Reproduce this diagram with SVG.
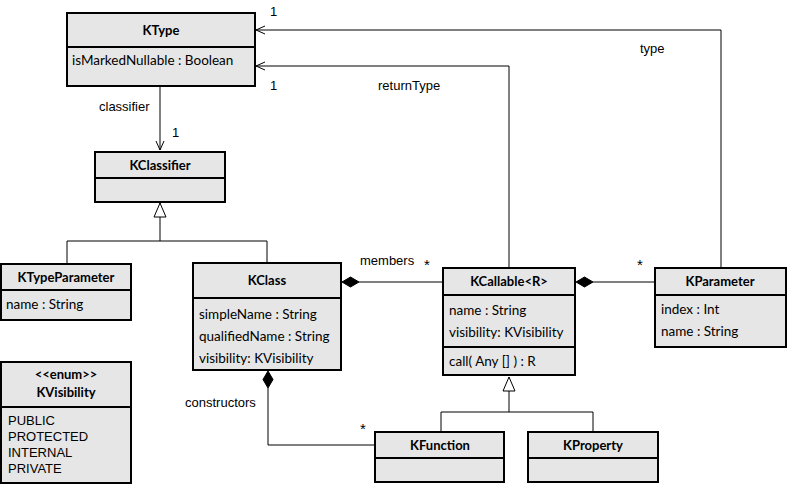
<svg xmlns="http://www.w3.org/2000/svg" width="787" height="484" viewBox="0 0 787 484">
<style>
.box{fill:#e6e6e6;stroke:#000;stroke-width:2}
.div{stroke:#000;stroke-width:2;fill:none}
.ln{stroke:#000;stroke-width:1;fill:none}
.t{font-family:Lato,"Open Sans",sans-serif;font-size:13.5px;fill:#000}
.h{font-family:Lato,"Open Sans",sans-serif;font-size:13px;font-weight:bold;fill:#000;text-anchor:middle}
.l{font-family:"Liberation Sans",Arial,sans-serif;font-size:13px;fill:#000}
.s{font-family:"Liberation Sans",Arial,sans-serif;font-size:15px;fill:#000}
</style>
<defs>
<marker id="open" markerWidth="12" markerHeight="12" refX="10" refY="5" orient="auto" markerUnits="userSpaceOnUse"><path d="M1,1 L10,5 L1,9" fill="none" stroke="#000" stroke-width="1"/></marker>
<marker id="tri" markerWidth="16" markerHeight="18" refX="15" refY="7" orient="auto" markerUnits="userSpaceOnUse"><path d="M1,1 L15,7 L1,13 Z" fill="#fff" stroke="#000" stroke-width="1"/></marker>
</defs>
<g id="connectors">
<path class="ln" d="M160,86 V150" marker-end="url(#open)"/>
<path class="ln" d="M509,268 V66 H256" marker-end="url(#open)"/>
<path class="ln" d="M721,268 V30 H256" marker-end="url(#open)"/>
<path class="ln" d="M67,264 V241 H267 V263"/>
<path class="ln" d="M160,241 V203" marker-end="url(#tri)"/>
<path class="ln" d="M441,432 V412 H593 V432"/>
<path class="ln" d="M509,412 V377" marker-end="url(#tri)"/>
<path class="ln" d="M443,282 H359"/>
<path d="M342,282 L350.5,277 L359,282 L350.5,287 Z" fill="#000" stroke="#000"/>
<path class="ln" d="M655,282 H593"/>
<path d="M576,282 L584.5,277 L593,282 L584.5,287 Z" fill="#000" stroke="#000"/>
<path class="ln" d="M268,388 V445 H375"/>
<path d="M268,371 L273,379.5 L268,388 L263,379.5 Z" fill="#000" stroke="#000"/>
<text class="l" x="99" y="111">classifier</text>
<text class="l" x="172" y="137">1</text>
<text class="l" x="270" y="16">1</text>
<text class="l" x="270" y="90">1</text>
<text class="l" x="378" y="90">returnType</text>
<text class="l" x="640" y="53">type</text>
<text class="l" x="360" y="265">members</text>
<text class="s" x="424" y="270">*</text>
<text class="s" x="637" y="270">*</text>
<text class="l" x="185" y="407">constructors</text>
<text class="s" x="360" y="434">*</text>
</g>
<g id="KType">
<rect class="box" x="67" y="13" width="188" height="73"/>
<path class="div" d="M67,47 H255"/>
<text class="h" x="161" y="35">KType</text>
<text class="t" x="72" y="65">isMarkedNullable : Boolean</text>
</g>
<g id="KClassifier">
<rect class="box" x="95" y="152" width="130" height="50"/>
<path class="div" d="M95,178 H225"/>
<text class="h" x="160" y="170">KClassifier</text>
</g>
<g id="KTypeParameter">
<rect class="box" x="1" y="264" width="130" height="56"/>
<path class="div" d="M1,290 H131"/>
<text class="h" x="66" y="282">KTypeParameter</text>
<text class="t" x="6" y="309">name : String</text>
</g>
<g id="KClass">
<rect class="box" x="193" y="263" width="148" height="107"/>
<path class="div" d="M193,298 H341"/>
<text class="h" x="267" y="285">KClass</text>
<text class="t" x="199" y="319">simpleName : String</text>
<text class="t" x="199" y="341">qualifiedName : String</text>
<text class="t" x="199" y="363">visibility: KVisibility</text>
</g>
<g id="KVisibility">
<rect class="box" x="1" y="362" width="130" height="121"/>
<path class="div" d="M1,407 H131"/>
<text class="h" x="66" y="379">&lt;&lt;enum&gt;&gt;</text>
<text class="h" x="66" y="397">KVisibility</text>
<text class="l" x="8" y="425">PUBLIC</text>
<text class="l" x="8" y="441">PROTECTED</text>
<text class="l" x="8" y="457">INTERNAL</text>
<text class="l" x="8" y="473">PRIVATE</text>
</g>
<g id="KCallable">
<rect class="box" x="443" y="268" width="132" height="107"/>
<path class="div" d="M443,295 H575 M443,347 H575"/>
<text class="h" x="509" y="286">KCallable&lt;R&gt;</text>
<text class="t" x="449" y="315">name : String</text>
<text class="t" x="449" y="337">visibility: KVisibility</text>
<text class="t" x="449" y="366">call( Any [] ) : R</text>
</g>
<g id="KParameter">
<rect class="box" x="655" y="268" width="131" height="79"/>
<path class="div" d="M655,295 H786"/>
<text class="h" x="720" y="286">KParameter</text>
<text class="t" x="661" y="314">index : Int</text>
<text class="t" x="661" y="336">name : String</text>
</g>
<g id="KFunction">
<rect class="box" x="375" y="432" width="129" height="50"/>
<path class="div" d="M375,458 H504"/>
<text class="h" x="440" y="450">KFunction</text>
</g>
<g id="KProperty">
<rect class="box" x="528" y="432" width="130" height="50"/>
<path class="div" d="M528,458 H658"/>
<text class="h" x="593" y="450">KProperty</text>
</g>
</svg>
